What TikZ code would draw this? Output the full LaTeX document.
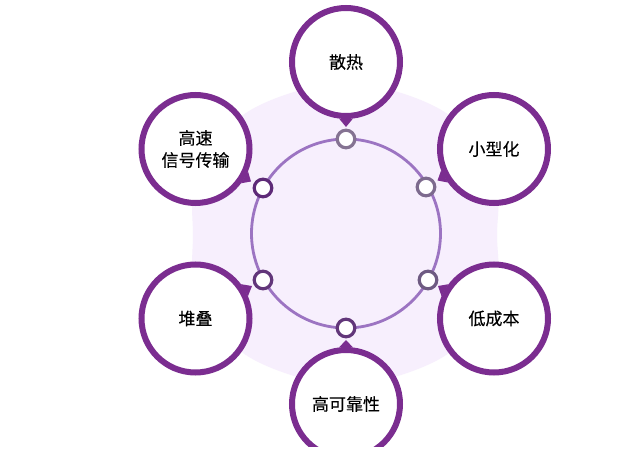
\documentclass[tikz,border=0pt]{standalone}
\usepackage{fontspec}
\setmainfont[FakeBold=0.2]{Noto Sans CJK SC}
\definecolor{bigpurple}{HTML}{7B2D90}
\definecolor{ringpurple}{HTML}{9C74C2}
\definecolor{softbg}{HTML}{F7EFFD}
\definecolor{dotA}{HTML}{857392}
\definecolor{dotB}{HTML}{5E2A78}
\definecolor{dotC}{HTML}{7D6A8E}
\definecolor{dotD}{HTML}{62367A}
\definecolor{dotE}{HTML}{6E5A82}
\tikzset{
  bigcircle/.style={circle,draw=bigpurple,line width=6pt,fill=white,minimum size=108pt,inner sep=0pt,align=center,font=\fontsize{17}{22}\selectfont,text=black},
  dot/.style={circle,draw=#1,line width=3.2pt,fill=white,minimum size=17.6pt,inner sep=0pt},
  pointer/.style={fill=bigpurple,draw=none}
}
\begin{document}
\begin{tikzpicture}[x=1pt,y=-1pt]
\useasboundingbox (0,0) rectangle (641,473);
\fill[white] (0,0) rectangle (641,473);
% soft background
\fill[softbg] plot[smooth cycle,tension=0.6] coordinates {
 (346,84) (398,92) (449,115) (477,150) (497,190) (497,235) (497,280) (477,318) (449,353) (398,376)
 (346,385) (294,376) (243,353) (215,318) (194,280) (193,235) (194,190) (215,150) (243,115) (294,92)};
% ring
\node[circle,draw=ringpurple,line width=2.8pt,minimum size=189pt,inner sep=0pt] (ring) at (346,233.5) {};
% small circles
\node[dot=dotA] (d1) at (346,139) {};
\node[dot=dotC] (d2) at (426,187) {};
\node[dot=dotE] (d3) at (428,280) {};
\node[dot=dotD] (d4) at (346,328) {};
\node[dot=dotD] (d5) at (263,280) {};
\node[dot=dotB] (d6) at (263,188) {};
% pointer tips
\coordinate (t1) at (346,127);
\coordinate (t2) at (437.5,180.5);
\coordinate (t3) at (438,286);
\coordinate (t4) at (346,340);
\coordinate (t5) at (252,286);
\coordinate (t6) at (251,181.5);
% big circles
\node[bigcircle] (b1) at (346,62) {散热};
\node[bigcircle] (b2) at (494,149) {小型化};
\node[bigcircle] (b3) at (494,318.5) {低成本};
\node[bigcircle] (b4) at (346,404) {高可靠性};
\node[bigcircle] (b5) at (195.5,318.5) {堆叠};
\node[bigcircle] (b6) at (195.5,149) {高速\\信号传输};
% pointers
\fill[pointer] (b1.-97) -- (t1) -- (b1.-83) -- cycle;
\fill[pointer] (b2.-158) -- (t2) -- (b2.-144) -- cycle;
\fill[pointer] (b3.143) -- (t3) -- (b3.157) -- cycle;
\fill[pointer] (b4.83) -- (t4) -- (b4.97) -- cycle;
\fill[pointer] (b5.23) -- (t5) -- (b5.37) -- cycle;
\fill[pointer] (b6.-37) -- (t6) -- (b6.-23) -- cycle;
% bottom crop
\fill[white] (0,447) rectangle (641,473);
\end{tikzpicture}
\end{document}
